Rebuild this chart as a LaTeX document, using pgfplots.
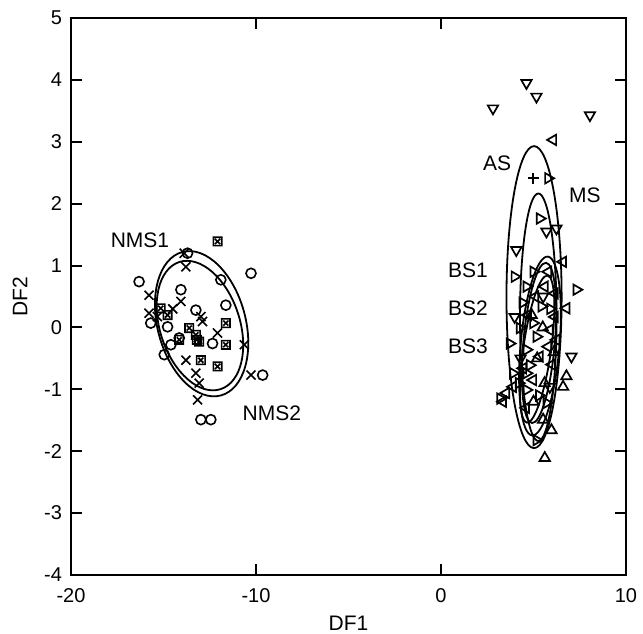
\documentclass[border=0pt]{standalone}
\usepackage{fontspec}
\setmainfont{Liberation Sans}
\usepackage{pgfplots}
\pgfplotsset{compat=1.18}
\usetikzlibrary{calc}

% boxed cross, as used for the NMS centroid-like points
\pgfdeclareplotmark{sqx}{%
  \pgfpathrectangle{\pgfpoint{-\pgfplotmarksize}{-\pgfplotmarksize}}{\pgfpoint{2\pgfplotmarksize}{2\pgfplotmarksize}}%
  \pgfpathmoveto{\pgfpoint{-0.6\pgfplotmarksize}{-0.6\pgfplotmarksize}}%
  \pgfpathlineto{\pgfpoint{0.6\pgfplotmarksize}{0.6\pgfplotmarksize}}%
  \pgfpathmoveto{\pgfpoint{-0.6\pgfplotmarksize}{0.6\pgfplotmarksize}}%
  \pgfpathlineto{\pgfpoint{0.6\pgfplotmarksize}{-0.6\pgfplotmarksize}}%
  \pgfusepathqstroke}

\begin{document}
\fontsize{10}{12}\selectfont
\begin{tikzpicture}
\begin{axis}[
  scale only axis,
  width=277.5pt, height=278.5pt,
  xmin=-20, xmax=10, ymin=-4, ymax=5,
  xtick={-20,-10,0,10},
  ytick={-4,-3,-2,-1,0,1,2,3,4,5},
  tick align=inside, tick pos=both,
  major tick length=5.5pt,
  axis line style={line width=1pt},
  every tick/.style={black, line width=1pt},
  /pgf/number format/assume math mode=true,
  tick label style={font=\fontsize{10}{12}\selectfont},
  xticklabel style={yshift=-3pt},
  yticklabel style={xshift=-1pt},
  xlabel={DF1}, ylabel={DF2},
  label style={font=\fontsize{10.5}{12}\selectfont},
  xlabel style={at={(axis description cs:0.5,-0.086)}, anchor=center},
  ylabel style={at={(axis description cs:-0.0919,0.5)}, anchor=center},
  clip=false
]
\coordinate (ll) at (rel axis cs:0,0);
\coordinate (ur) at (rel axis cs:1,1);

% NMS: circles
\addplot[only marks, mark=o, mark size=2.5pt, line width=0.8pt] coordinates {
 (-16.32,0.74) (-14.06,0.61) (-10.27,0.875) (-11.9,0.77) (-11.63,0.36)
 (-13.25,0.28) (-15.69,0.07) (-14.78,0.01) (-13.7,1.2) (-14.6,-0.28)
 (-12.35,-0.26) (-14.96,-0.44) (-9.64,-0.77) (-12.98,-1.49) (-12.44,-1.49)
 (-14.15,-0.17)
};
% NMS: crosses
\addplot[only marks, mark=x, mark size=3.2pt, line width=0.8pt] coordinates {
 (-13.88,1.2) (-13.79,0.98) (-15.78,0.52) (-15.78,0.23) (-14.06,0.42)
 (-12.98,0.175) (-15.33,0.175) (-12.08,-0.09) (-10.63,-0.28) (-13.79,-0.53)
 (-13.25,-0.74) (-10.27,-0.77) (-13.07,-0.9) (-13.16,-1.17) (-12.89,0.095)
 (-14.5,0.3)
};
% NMS: boxed crosses
\addplot[only marks, mark=sqx, mark size=2.1pt, line width=0.8pt] coordinates {
 (-12.08,1.39) (-15.15,0.31) (-14.78,0.2) (-14.15,-0.2) (-13.61,-0.01)
 (-13.25,-0.12) (-13.07,-0.23) (-11.63,0.07) (-11.63,-0.28) (-12.98,-0.53)
 (-12.08,-0.63) (-13.2,-0.2)
};

% AS: down triangles
\addplot[only marks, mark=triangle, mark options={rotate=180}, mark size=3pt, line width=0.85pt] coordinates {
 (4.62,3.95) (5.16,3.73) (2.81,3.54) (8.05,3.43) (5.70,1.55) (6.24,1.60)
 (4.07,1.25) (3.98,0.17) (7.05,-0.47) (5.88,-0.96) (5.52,0.5) (4.3,-0.5)
};
% MS: right triangles
\addplot[only marks, mark=triangle, mark options={rotate=-90}, mark size=3pt, line width=0.85pt] coordinates {
 (5.79,2.41) (5.34,1.76) (7.32,0.61) (3.98,0.82) (4.62,0.66) (5.43,0.34)
 (4.98,0.07) (3.71,-0.26) (4.62,-0.36) (3.89,-0.74) (4.62,-0.74) (4.62,-1.01)
 (5.16,-1.82) (4.26,-0.01) (4.8,-0.61) (5.7,-1.22) (5.16,-0.15) (3.2,-1.15)
 (5.0,0.9) (4.4,0.4) (5.3,-1.1) (4.2,-0.9) (5.9,0.3)
};
% BS1: left triangles
\addplot[only marks, mark=triangle, mark options={rotate=90}, mark size=3pt, line width=0.85pt] coordinates {
 (6.06,3.03) (6.6,1.06) (5.61,0.66) (6.78,0.31) (6.15,0.17) (5.88,-0.04)
 (5.79,-0.31) (5.34,-0.47) (3.89,-0.96) (3.53,-1.06) (3.35,-1.2) (6.24,-0.2)
 (4.98,-0.85) (4.44,-0.66) (6.15,0.55) (5.8,0.9) (4.6,-1.3) (6.0,-0.6)
 (4.7,0.2) (5.1,0.5)
};
% BS2/BS3: up triangles
\addplot[only marks, mark=triangle, mark size=3pt, line width=0.85pt] coordinates {
 (6.78,-0.79) (6.6,-0.96) (5.52,-1.49) (5.97,-1.66) (5.61,-2.11)
 (5.2,-0.5) (4.9,0.2) (5.6,-0.9) (6.1,-0.4) (5.0,-1.2) (5.5,0.0)
};
% AS centroid
\addplot[only marks, mark=+, mark size=2.8pt, line width=0.8pt] coordinates {(4.98,2.41)};

% confidence ellipses
\draw[line width=0.9pt, rotate around={15:(axis cs:-12.94,0.06)}]
  (axis cs:-12.94,0.06) ellipse [x radius=2.38, y radius=1.2];
\draw[line width=0.9pt, rotate around={18:(axis cs:-13.03,0.03)}]
  (axis cs:-13.03,0.03) ellipse [x radius=2.16, y radius=1.08];
\draw[line width=0.9pt] (axis cs:5.03,0.49) ellipse [x radius=1.49, y radius=2.44];
\draw[line width=0.9pt] (axis cs:5.26,0.165) ellipse [x radius=0.99, y radius=2.0];
\draw[line width=0.9pt, rotate around={-5:(axis cs:5.35,-0.3)}]
  (axis cs:5.35,-0.3) ellipse [x radius=1.05, y radius=1.45];
\draw[line width=0.9pt, rotate around={-5:(axis cs:5.3,-0.25)}]
  (axis cs:5.3,-0.25) ellipse [x radius=0.85, y radius=1.3];
\draw[line width=0.9pt, rotate around={-8:(axis cs:5.2,-0.35)}]
  (axis cs:5.2,-0.35) ellipse [x radius=0.75, y radius=1.2];

% group labels
\begin{scope}[every node/.style={font=\fontsize{10.5}{12}\selectfont, inner sep=0pt}]
\node at (axis cs:-16.27,1.41) {NMS1};
\node at (axis cs:-9.14,-1.38) {NMS2};
\node at (axis cs:3.03,2.66) {AS};
\node at (axis cs:7.78,2.14) {MS};
\node at (axis cs:1.46,0.93) {BS1};
\node at (axis cs:1.46,0.31) {BS2};
\node at (axis cs:1.46,-0.31) {BS3};
\end{scope}
\end{axis}
\pgfresetboundingbox
\path ($(ll)+(-35.5pt,-29.5pt)$) rectangle ($(ur)+(8.5pt,9pt)$);
\end{tikzpicture}
\end{document}
